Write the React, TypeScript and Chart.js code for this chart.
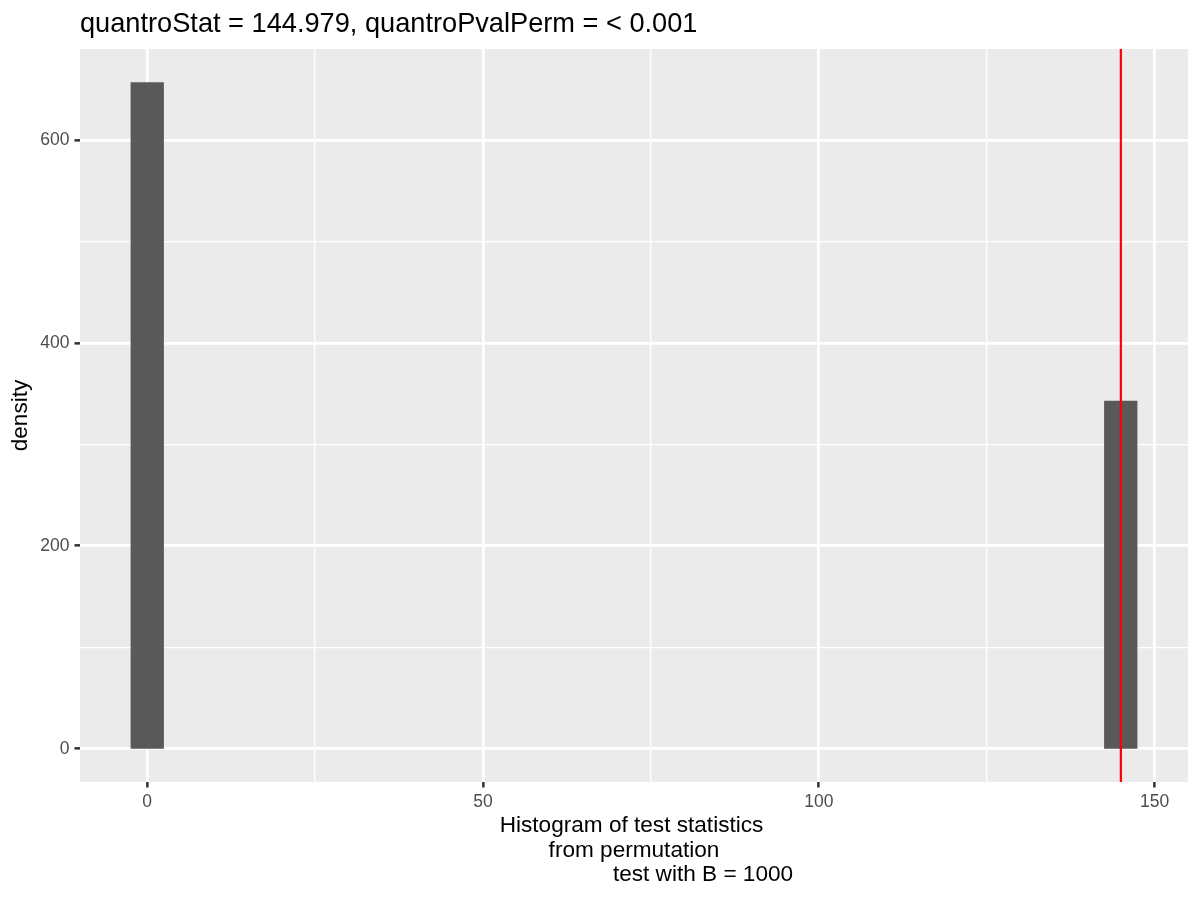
import React, { useEffect, useRef } from "react";
import { Chart, registerables } from "chart.js";

Chart.register(...registerables);

// ---- data ----
const binCenters = [0, 144.979];
const binWidth = 5;
const densities = [657, 343];
const observedStat = 144.979;

const xTickValues = [0, 25, 50, 75, 100, 125, 150];
const xMajorTicks = [0, 50, 100, 150];
const yTickValues = [0, 100, 200, 300, 400, 500, 600];
const yMajorTicks = [0, 200, 400, 600];

const titleText = "quantroStat = 144.979, quantroPvalPerm = < 0.001";
const xTitleLines = ["Histogram of test statistics", "from permutation", "test with B = 1000"];
const xTitleOffsets = [-2.5, 0, 69];
const yTitle = "density";

const FAMILY = '"Liberation Sans", Arial, Helvetica, sans-serif';

// ggplot-like 5% expansion
const xLo = Math.min(...binCenters.map((c) => c - binWidth / 2));
const xHi = Math.max(...binCenters.map((c) => c + binWidth / 2));
const xPad = (xHi - xLo) * 0.05;
const xMin = xLo - xPad;
const xMax = xHi + xPad;
const yLo = 0;
const yHi = Math.max(...densities);
const yPad = (yHi - yLo) * 0.05;
const yMin = yLo - yPad;
const yMax = yHi + yPad;

const panelBg = {
  id: "panelBg",
  beforeDraw(chart: any) {
    const { ctx, chartArea: a } = chart;
    ctx.save();
    ctx.fillStyle = "#EBEBEB";
    ctx.fillRect(a.left, a.top, a.right - a.left, a.bottom - a.top);
    ctx.restore();
  },
};

const textPlugin = {
  id: "ggText",
  afterDraw(chart: any) {
    const { ctx, chartArea: a } = chart;
    ctx.save();
    ctx.fillStyle = "#000000";
    ctx.textBaseline = "alphabetic";
    ctx.font = `27.2px ${FAMILY}`;
    ctx.textAlign = "left";
    ctx.fillText(titleText, a.left, 31.5);

    ctx.font = `22.6px ${FAMILY}`;
    ctx.textAlign = "center";
    const cx = (a.left + a.right) / 2;
    xTitleLines.forEach((line, i) => {
      ctx.fillText(line, cx + xTitleOffsets[i], a.bottom + 50 + i * 24.5);
    });

    ctx.translate(27, (a.top + a.bottom) / 2);
    ctx.rotate(-Math.PI / 2);
    ctx.fillText(yTitle, 0, 0);
    ctx.restore();
  },
};

export default function App() {
  const ref = useRef<HTMLCanvasElement | null>(null);

  useEffect(() => {
    if (!ref.current) return;

    const barDatasets = binCenters.map((c, i) => ({
      type: "line" as const,
      label: `bin${i}`,
      data: [
        { x: c - binWidth / 2, y: 0 },
        { x: c - binWidth / 2, y: densities[i] },
        { x: c + binWidth / 2, y: densities[i] },
        { x: c + binWidth / 2, y: 0 },
      ],
      backgroundColor: "#595959",
      borderColor: "rgba(0,0,0,0)",
      borderWidth: 0,
      pointRadius: 0,
      fill: "origin",
      tension: 0,
      order: 1,
    }));

    const vline = {
      type: "line" as const,
      label: "stat",
      data: [
        { x: observedStat, y: yMin },
        { x: observedStat, y: yMax },
      ],
      borderColor: "#FF0000",
      borderWidth: 2.2,
      pointRadius: 0,
      fill: false,
      order: 0,
    };

    const chart = new Chart(ref.current, {
      type: "scatter",
      data: { datasets: [vline as any, ...barDatasets] },
      options: {
        animation: false,
        responsive: false,
        devicePixelRatio: 1,
        layout: { padding: { top: 49, right: 12, left: 0, bottom: 0 } },
        plugins: {
          legend: { display: false },
          tooltip: { enabled: false },
          title: { display: false },
        },
        elements: { line: { tension: 0 } },
        scales: {
          x: {
            type: "linear",
            min: xMin,
            max: xMax,
            afterBuildTicks: (s: any) => {
              s.ticks = xTickValues.map((v) => ({ value: v }));
            },
            afterFit: (s: any) => {
              s.height = 118;
            },
            border: { display: false },
            grid: {
              color: "#FFFFFF",
              lineWidth: (c: any) => (xMajorTicks.includes(c.tick?.value) ? 2.7 : 1.35),
              drawTicks: true,
              tickLength: 5.5,
              tickWidth: 2.5,
              tickColor: (c: any) => (xMajorTicks.includes(c.tick?.value) ? "#333333" : "rgba(0,0,0,0)"),
            },
            ticks: {
              autoSkip: false,
              maxRotation: 0,
              padding: 4,
              color: "#4D4D4D",
              font: { family: FAMILY, size: 17.5 },
              callback: (v: any) => (xMajorTicks.includes(Number(v)) ? String(v) : ""),
            },
          },
          y: {
            type: "linear",
            min: yMin,
            max: yMax,
            afterBuildTicks: (s: any) => {
              s.ticks = yTickValues.map((v) => ({ value: v }));
            },
            afterFit: (s: any) => {
              s.width = 80;
            },
            border: { display: false },
            grid: {
              color: "#FFFFFF",
              lineWidth: (c: any) => (yMajorTicks.includes(c.tick?.value) ? 2.7 : 1.35),
              drawTicks: true,
              tickLength: 5.5,
              tickWidth: 2.5,
              tickColor: (c: any) => (yMajorTicks.includes(c.tick?.value) ? "#333333" : "rgba(0,0,0,0)"),
            },
            ticks: {
              autoSkip: false,
              padding: 5,
              color: "#4D4D4D",
              font: { family: FAMILY, size: 17.5 },
              callback: (v: any) => (yMajorTicks.includes(Number(v)) ? String(v) : ""),
            },
          },
        },
      },
      plugins: [panelBg, textPlugin],
    });

    return () => chart.destroy();
  }, []);

  return (
    <div style={{ position: "absolute", left: 0, top: 0, width: 1200, height: 900, background: "#FFFFFF" }}>
      <canvas ref={ref} width={1200} height={900} style={{ display: "block", width: 1200, height: 900 }} />
    </div>
  );
}
